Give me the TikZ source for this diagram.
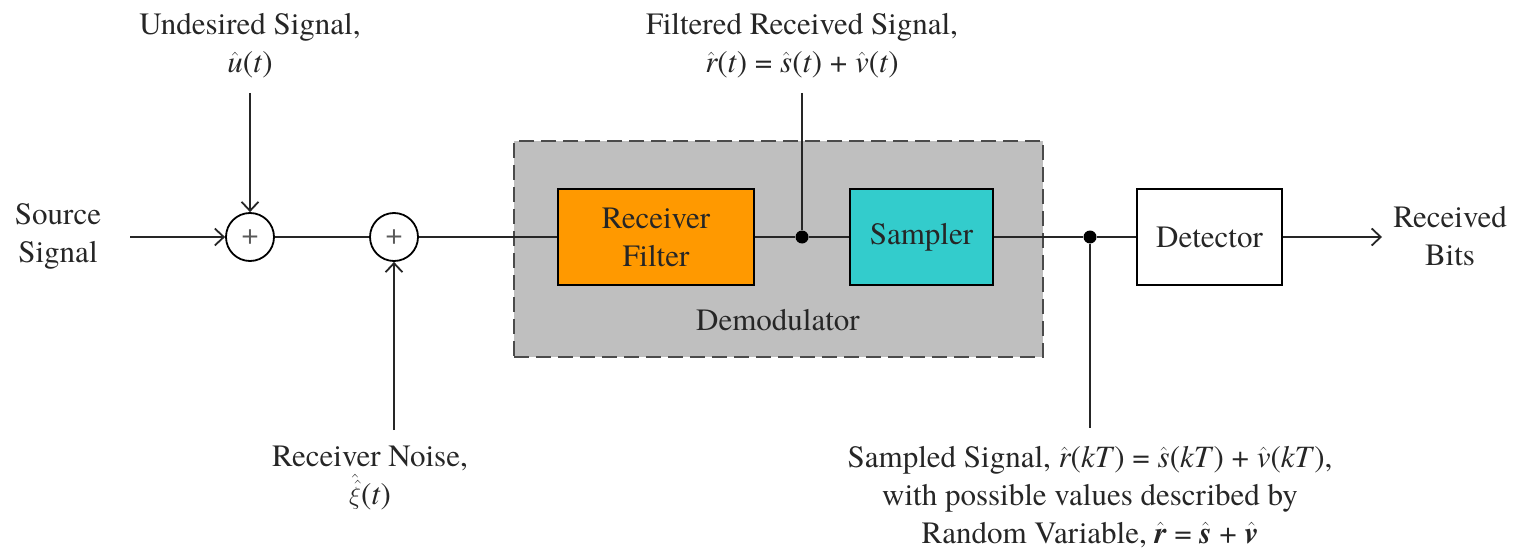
\documentclass[tikz,border=0pt]{standalone}
\usepackage{fontspec}
\setmainfont{texgyretermes}[Extension=.otf, UprightFont=*-regular, BoldFont=*-bold, ItalicFont=*-italic, BoldItalicFont=*-bolditalic]
\usetikzlibrary{arrows.meta}
\newcommand{\vi}[1]{\textit{#1}}
\newcommand{\hv}[1]{$\hat{\mbox{\itshape #1}}$}
\newcommand{\bhv}[1]{$\hat{\mbox{\bfseries\itshape #1}}$}
\definecolor{demodgray}{RGB}{191,191,191}
\definecolor{filtorange}{RGB}{255,153,0}
\definecolor{sampcyan}{RGB}{51,204,204}
\definecolor{dashgray}{RGB}{75,75,75}
\tikzset{
  lbl/.style={align=center, inner sep=0pt, text=black!85},
  sumnode/.style={circle, draw, minimum size=48pt, inner sep=0pt, fill=white},
  blockbox/.style={draw, minimum height=96pt, inner sep=0pt, text=black!85},
  conn/.style={draw=black!85},
  arr/.style={conn, -{Straight Barb[length=9pt,width=17pt,line width=1.8pt]}},
  dotnode/.style={circle, fill=black, inner sep=0pt, minimum size=13pt},
  plussign/.style={font=\fontsize{30}{30}\selectfont, text=black!65, inner sep=0pt},
}
\begin{document}
\begin{tikzpicture}[x=1pt,y=-1pt, font=\fontsize{31}{38}\selectfont, line width=1.8pt]
\useasboundingbox (0,0) rectangle (1517,548);
% demodulator box
\node[draw=dashgray, dash pattern=on 15pt off 7pt, line width=2.2pt, fill=demodgray,
      minimum width=529pt, minimum height=216pt, inner sep=0pt] (demod) at (778.5,249) {};
\node[lbl] (demodlbl) at (778,320) {Demodulator};
% labels
\node[lbl] (src) at (58,236) {Source\\Signal};
\node[lbl] (und) at (250,46) {Undesired Signal,\\\hv{u}(\vi{t})};
\node[lbl] (filtlbl) at (802,46) {Filtered Received Signal,\\\hv{r}(\vi{t}) = \hv{s}(\vi{t}) + \hv{v}(\vi{t})};
\node[lbl] (noise) at (370,478) {Receiver Noise,\\$\hat{\hat{\xi}}$(\vi{t})};
\node[lbl] (samplbl) at (1090,497) {Sampled Signal, \hv{r}(\vi{kT}) = \hv{s}(\vi{kT}) + \hv{v}(\vi{kT}),\\with possible values described by\\Random Variable, \bhv{r} = \bhv{s} + \bhv{v}};
\node[lbl] (rb) at (1450,236) {Received\\Bits};
% coordinates
\coordinate (srcend) at (130,237);
\coordinate (undtop) at (250,93);
\coordinate (noisebot) at (394,430);
\coordinate (filttop) at (802,93);
\coordinate (sampbot) at (1090,428);
\coordinate (rbend) at (1382,237);
% sums
\node[sumnode] (add1) at (250,237) {};
\node[sumnode] (add2) at (394,237) {};
\node[plussign] (plus1) at (add1) {+};
\node[plussign] (plus2) at (add2) {+};
% blocks
\node[blockbox, fill=filtorange, minimum width=196pt, align=center] (filt) at (656,237) {Receiver\\Filter};
\node[blockbox, fill=sampcyan, minimum width=143pt] (samp) at (921.5,237) {Sampler};
\node[blockbox, fill=white, minimum width=145pt] (det) at (1209.5,237) {Detector};
\node[dotnode] (j1) at (802,237) {};
\node[dotnode] (j2) at (1090,237) {};
% connectors
\draw[arr] (srcend) -- (add1);
\draw[arr] (undtop) -- (add1);
\draw[conn] (add1) -- (add2);
\draw[arr] (noisebot) -- (add2);
\draw[conn] (add2) -- (filt);
\draw[conn] (filt) -- (j1);
\draw[conn] (j1) -- (samp);
\draw[conn] (filttop) -- (j1);
\draw[conn] (samp) -- (j2);
\draw[conn] (j2) -- (det);
\draw[conn] (j2) -- (sampbot);
\draw[arr] (det) -- (rbend);
\end{tikzpicture}
\end{document}
